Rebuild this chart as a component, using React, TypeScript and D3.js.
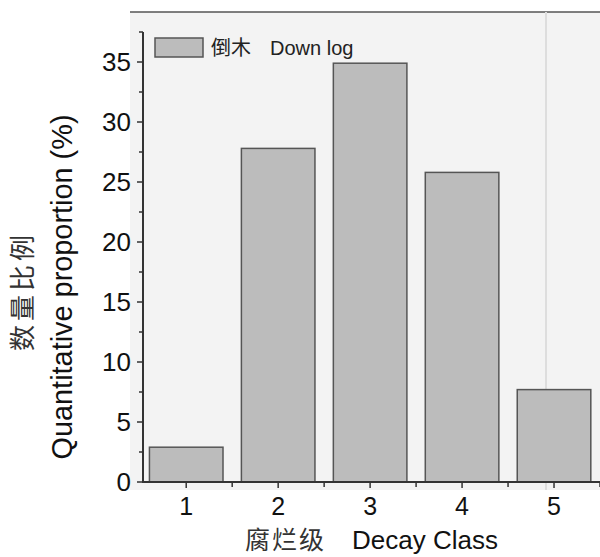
import React from "react";
import * as d3 from "d3";

const decayClass = [1, 2, 3, 4, 5];
const downLog = [2.9, 27.8, 34.9, 25.8, 7.7];
const yTicks = [0, 5, 10, 15, 20, 25, 30, 35];
const yMinor = [2.5, 7.5, 12.5, 17.5, 22.5, 27.5, 32.5, 37.5];
const xMinor = [1.5, 2.5, 3.5, 4.5, 5.5];

const W = 600;
const H = 557;

export default function App() {
  const x = d3.scaleLinear().domain([0.53, 5.5]).range([143, 600]);
  const y = d3.scaleLinear().domain([0, 37.5]).range([482, 32]);
  const bw = x(1.4) - x(0.6);
  const axis = "#333";
  const font = "Arial, 'Liberation Sans', sans-serif";
  const cjk = "'Noto Sans CJK SC', sans-serif";

  return (
    <svg width={W} height={H} style={{ position: "absolute", left: 0, top: 0, background: "#fff" }}>
      <rect x={130} y={12} width={470} height={478} fill="#f3f3f3" />
      <line x1={130} x2={600} y1={12} y2={12} stroke="#555" strokeWidth={1.5} />
      <line x1={546} x2={546} y1={12} y2={490} stroke="#ddd" strokeWidth={2} />

      {downLog.map((v, i) => (
        <rect
          key={i}
          x={x(decayClass[i]) - bw / 2}
          y={y(v)}
          width={bw}
          height={y(0) - y(v)}
          fill="#bcbcbc"
          stroke="#555"
          strokeWidth={1.5}
        />
      ))}

      {/* y axis */}
      <line x1={143} x2={143} y1={y(0) + 1} y2={y(37.5)} stroke={axis} strokeWidth={2} />
      {yTicks.map((t) => (
        <g key={t}>
          <line x1={143 - 6} x2={143} y1={y(t)} y2={y(t)} stroke={axis} strokeWidth={1.5} />
          <text x={131} y={y(t)} dy="0.36em" textAnchor="end" fontSize={26} fontFamily={font} fill="#111">
            {t}
          </text>
        </g>
      ))}
      {yMinor.map((t) => (
        <line key={t} x1={143 - 4} x2={143} y1={y(t)} y2={y(t)} stroke={axis} strokeWidth={1.5} />
      ))}

      {/* x axis */}
      <line x1={143} x2={600} y1={y(0)} y2={y(0)} stroke={axis} strokeWidth={2} />
      {decayClass.map((c) => (
        <g key={c}>
          <line x1={x(c)} x2={x(c)} y1={y(0)} y2={y(0) + 6} stroke={axis} strokeWidth={1.5} />
          <text x={x(c)} y={515} textAnchor="middle" fontSize={25} fontFamily={font} fill="#111">
            {c}
          </text>
        </g>
      ))}
      {xMinor.map((c) => (
        <line key={c} x1={x(c)} x2={x(c)} y1={y(0)} y2={y(0) + 5} stroke={axis} strokeWidth={1.5} />
      ))}

      {/* axis titles */}
      <text x={245} y={549} fontSize={26} fontFamily={font} fill="#111">
        <tspan fontFamily={cjk} fill="#333" fontSize={25} letterSpacing={2}>腐烂级</tspan>
        <tspan x={352}>Decay Class</tspan>
      </text>
      <text
        transform={`translate(72, 287) rotate(-90)`}
        textAnchor="middle"
        fontSize={30}
        fontFamily={font}
        fill="#111"
        textLength={345}
        lengthAdjust="spacingAndGlyphs"
      >
        Quantitative proportion (%)
      </text>
      <text
        transform={`translate(32, 291) rotate(-90)`}
        textAnchor="middle"
        fontSize={26}
        fontFamily={cjk}
        fill="#333"
        letterSpacing={4}
      >
        数量比例
      </text>

      {/* legend */}
      <rect x={155} y={38} width={48} height={19} fill="#bcbcbc" stroke="#555" strokeWidth={1.5} />
      <text x={211} y={55} fontSize={20} fontFamily={font} fill="#222">
        <tspan fontFamily={cjk}>倒木</tspan>
        <tspan x={270}>Down log</tspan>
      </text>
    </svg>
  );
}
